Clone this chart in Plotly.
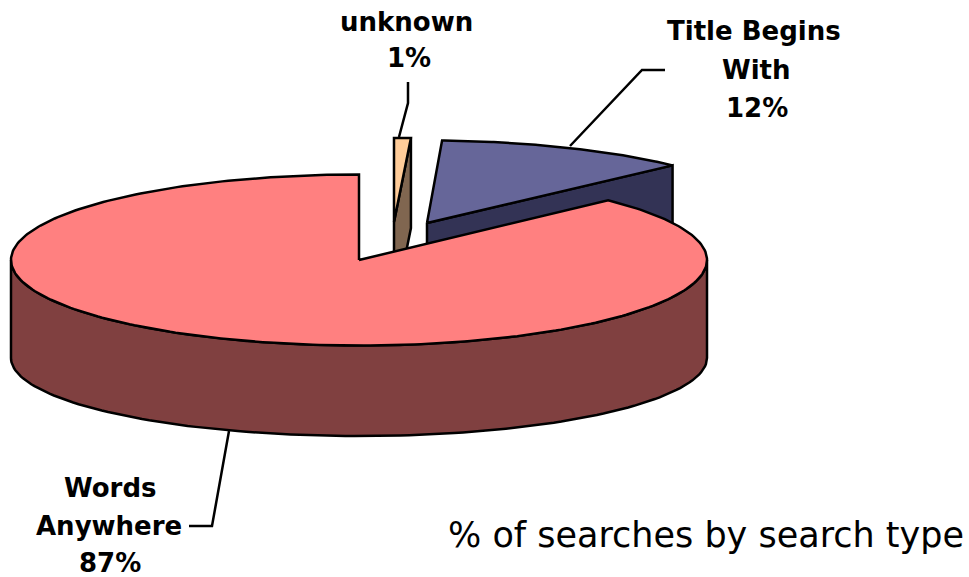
import numpy as np
import plotly.graph_objects as go

# slices clockwise from 12 o'clock
categories = ["unknown", "Title Begins With", "Words Anywhere"]
shares = [0.7, 12.0, 87.3]
pct_labels = ["1%", "12%", "87%"]

top_colors = ["#FFCC99", "#666699", "#FF8080"]
side_colors = ["#806650", "#333355", "#804040"]

# pie geometry in pixels: apex, radii
apex = [(394, 222), (427, 223), (359, 260)]
radii = [(385, 84), (343, 82.5), (348, 85.5)]
depth = 90
bottom_cy = 358
bottom_ry = 78


def arc(cx, cy, rx, ry, t0, t1, n=120):
    t = np.radians(np.linspace(t0, t1, n))
    return cx + rx * np.cos(t), cy - ry * np.sin(t)


def poly(x, y, color):
    return go.Scatter(x=list(x), y=list(y), mode="lines", fill="toself", fillcolor=color,
                      line=dict(color="black", width=2.5), hoverinfo="skip", showlegend=False)


fig = go.Figure()
angle = 90.0
edges = []
for share in shares:
    edges.append((angle, angle - share * 3.6))
    angle -= share * 3.6

# exploded slices first, the big one sits in front of them
for i in [0, 1]:
    cx, cy = apex[i]
    rx, ry = radii[i]
    x, y = arc(cx, cy, rx, ry, edges[i][0], edges[i][1])
    # cut wall, only the far edge faces us
    fig.add_trace(poly([cx, x[-1], x[-1], cx, cx], [cy, y[-1], y[-1] + depth, cy + depth, cy], side_colors[i]))
    fig.add_trace(poly(np.r_[cx, x, cx], np.r_[cy, y, cy], top_colors[i]))

cx, cy = apex[2]
rx, ry = radii[2]
# round wall of the big slice, lower half of the ellipse
wx, wy = arc(cx, cy, rx, ry, 180, 360)
bx, by = arc(cx, bottom_cy, rx, bottom_ry, 360, 180)
fig.add_trace(poly(np.r_[wx, bx, wx[0]], np.r_[wy, by, wy[0]], side_colors[2]))
x, y = arc(cx, cy, rx, ry, edges[2][0], edges[2][1], 300)
fig.add_trace(poly(np.r_[cx, x, cx], np.r_[cy, y, cy], top_colors[2]))

leaders = ["M 408 82 L 408 103 L 399 137", "M 665 70 L 642 70 L 570 146", "M 229 431 L 212 526 L 189 526"]
label_lines = [
    [("unknown", 406, 22), (pct_labels[0], 409, 58)],
    [("Title Begins", 754, 31), ("With", 756, 70), (pct_labels[1], 757, 108)],
    [("Words", 110, 488), ("Anywhere", 109, 526), (pct_labels[2], 110, 563)],
]

for path in leaders:
    fig.add_shape(type="path", path=path, line=dict(color="black", width=2.5))

for lines in label_lines:
    for text, lx, ly in lines:
        fig.add_annotation(x=lx, y=ly, text=text, showarrow=False,
                           font=dict(family="DejaVu Sans", size=26, color="black", weight="bold"))

fig.add_annotation(x=706, y=535, text="% of searches by search type", showarrow=False,
                   font=dict(family="DejaVu Sans", size=35, color="black"))

fig.update_layout(
    width=969, height=577, margin=dict(l=0, r=0, t=0, b=0),
    paper_bgcolor="white", plot_bgcolor="white",
    xaxis=dict(range=[0, 969], visible=False),
    yaxis=dict(range=[577, 0], visible=False),
)
# page body margin would push the figure 8px off
fig.write_html("out.html", config=dict(displayModeBar=False),
               post_script="document.body.style.margin='0';")
